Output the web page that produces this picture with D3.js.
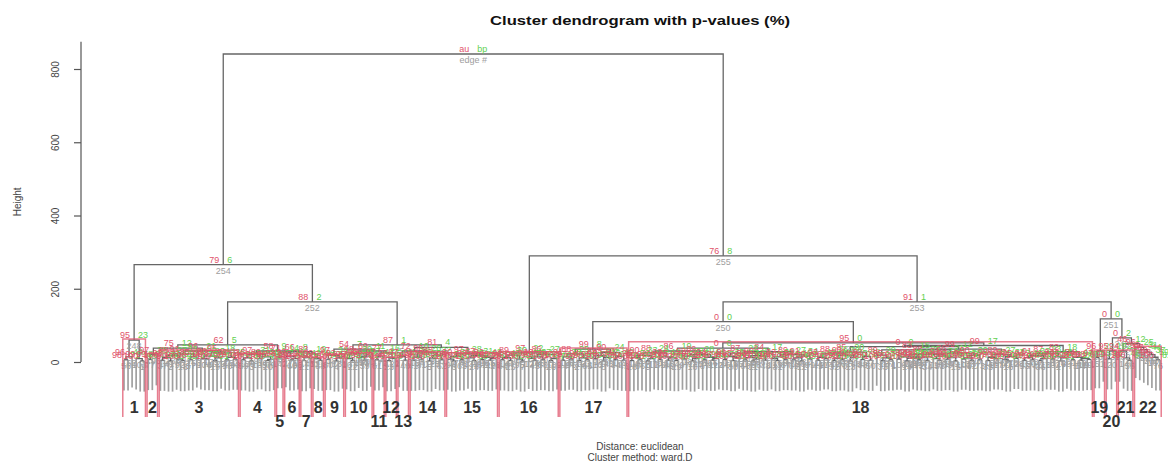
<!DOCTYPE html>
<html><head><meta charset="utf-8">
<script src="https://cdn.jsdelivr.net/npm/d3@7"></script>
<style>body{margin:0;background:#fff}svg{display:block}</style>
</head><body><svg id="c" width="1168" height="469"></svg>
<script>
// ---------------- data ----------------
const titleText = "Cluster dendrogram with p-values (%)";
const subText = ["Distance:  euclidean", "Cluster method: ward.D"];
const yLabel = "Height";
const yTicks = [0, 200, 400, 600, 800];
const clusterNames = ["1","2","3","4","5","6","7","8","9","10","11","12","13","14","15","16","17","18","19","20","21","22"];
const clusterLabelRow = [1,1,1,1,2,1,2,1,1,1,2,1,2,1,1,1,1,1,1,2,1,1];

// merge heights between neighbouring leaves inside each significant cluster
const withinGaps = [
  [6,14,60,9,3],
  [7,20],
  [5,12,3,18,8,4,22,6,14,30,9,7,16,4,11,25,6,13,8],
  [6,11,3,20,9,14,4,7],
  [12],
  [15,6,9],
  [4,12],
  [10,5],
  [7,18,3,11],
  [9,4,22,13,5,16],
  [6,15],
  [4,10],
  [15,5],
  [5,13,7,25,3,10,18,6],
  [8,3,15,6,22,11,4,17,7,13,5,9],
  [6,12,4,19,8,3,25,10,5,14,7,21,4,9],
  [5,14,8,22,4,11,6,35,9,17,3,12,26,7,15,5],
  [4,12,6,18,3,9,25,7,14,5, 11,4,30,8,16,3,10,21,6,13, 5,9,38,7,15,4,11,24,6,12,
   3,8,17,5,28,9,4,14,7,20, 6,11,3,16,8,52,5,13,9,22, 4,10,6,18,3,12,27,7,15,5,
   42,19,4,11,6,33,8,14,3,10, 9,6,13,4,21,9,5,16,7,12, 3,24,8,11,5,18,6,35,4,13,
   9,20,7,3,15,10,45,5,12,6, 17,4,9,23,8,14,3,11,28,6, 13,5,9,7],
  [12,30],
  [9,30],
  [30,11,5],
  [40,34,27,20,13,6]
];
const withinAU = [
  [98,96,95,99,100],
  [99,97],
  [100,93,99,88,97,100,91,98,85,96,94,99,90,100,87,95,98,92,97],
  [99,94,100,97,93,89,100,96],
  [98],
  [97,99,95],
  [100,98],
  [99,100],
  [96,97,100,92],
  [95,100,98,90,99,86],
  [99,97],
  [100,96],
  [97,100],
  [99,91,97,96,100,94,88,98],
  [96,100,90,98,97,93,100,87,99,92,100,95],
  [98,92,100,89,96,100,97,94,99,90,97,86,100,95],
  [100,91,97,88,99,94,98,99,95,89,100,93,90,97,92,99],
  [100,96,99,90,100,98,88,99,93,100, 95,100,86,97,92,100,96,89,99,94, 100,97,0,98,91,100,95,87,99,93,
   100,97,90,100,84,96,100,92,98,89, 99,94,100,91,97,95,100,93,96,88, 100,95,99,90,100,94,85,98,92,100,
   0,89,100,95,99,83,97,92,100,96, 97,99,93,100,88,96,100,91,98,94, 100,86,97,95,100,90,99,99,100,93,
   96,89,98,100,92,95,99,100,94,99, 91,100,96,87,97,93,100,95,82,99, 94,100,96,98],
  [97,96],
  [99,95],
  [94,98,100],
  [96,93,97,90,98,100]
];
const withinBP = [
  [71,44,23,58,92],
  [66,38],
  [88,41,93,27,62,95,33,75,38,21,55,70,29,91,46,18,77,35,64],
  [73,45,90,31,52,36,86,60],
  [47],
  [39,68,51],
  [84,42],
  [49,79],
  [63,34,94,48],
  [57,87,30,40,81,37],
  [72,44],
  [89,53],
  [41,80],
  [76,39,65,26,92,54,32,70],
  [59,93,36,74,28,47,88,31,68,42,85,56],
  [72,43,90,30,61,95,22,50,79,37,66,27,87,55],
  [82,38,63,29,86,48,71,8,57,33,94,45,24,67,40,80],
  [91,52,77,33,94,60,24,72,41,86, 49,90,19,66,37,95,55,28,79,44, 88,63,0,70,35,92,51,22,75,43,
   93,68,31,87,17,57,90,39,69,27, 74,46,95,34,64,0,85,42,58,26, 89,50,78,32,94,45,20,71,38,83,
   0,29,91,53,76,15,67,40,93,56, 61,73,42,88,25,59,90,34,70,48, 95,21,65,50,87,30,77,12,92,43,
   57,27,69,94,37,53,17,84,46,75, 33,90,58,23,66,41,93,54,18,79, 44,88,60,72],
  [55,22],
  [62,19],
  [21,48,83],
  [25,31,44,37,59,81]
];
// merge heights between consecutive clusters (cluster k | cluster k+1)
const betweenGaps = [266,38,47,30,25,28,22,164,35,30,25,47,30,40,841,290,110,164,118,66,50];
const betweenAU   = [79,75,62,58,71,66,83,88,54,69,77,87,72,81,100,76,0,91,0,0,46];
const betweenBP   = [6,12,5,9,14,8,19,2,7,11,16,1,10,4,100,8,0,1,0,2,12];

// ---------------- assemble ----------------
const G = [], AU = [], BP = [], clusters = [];
let idx = 0;
withinGaps.forEach((g, k) => {
  const start = idx;
  g.forEach((v, j) => { G.push(v); AU.push(withinAU[k][j]); BP.push(withinBP[k][j]); });
  idx += g.length + 1;
  clusters.push({name: clusterNames[k], row: clusterLabelRow[k], start, end: idx - 1, top: g.length ? d3.max(g) : 0});
  if (k < betweenGaps.length) { G.push(betweenGaps[k]); AU.push(betweenAU[k]); BP.push(betweenBP[k]); }
});
const N = idx;

function build(lo, hi) {
  if (lo === hi) return {leaf: true, i: lo, x: lo, h: 0};
  let k = lo;
  for (let j = lo + 1; j < hi; j++) if (G[j] > G[k]) k = j;
  const L = build(lo, k), R = build(k + 1, hi);
  return {leaf: false, k, h: G[k], au: AU[k], bp: BP[k], left: L, right: R, x: (L.x + R.x) / 2};
}
const root = build(0, N - 1);
const nodes = [];
(function walk(n){ if (n.leaf) return; nodes.push(n); walk(n.left); walk(n.right); })(root);
nodes.slice().sort((a, b) => a.h - b.h || a.k - b.k).forEach((n, i) => n.edge = i + 1);

const maxH = d3.max(G), minH = d3.min(G);
const hang = 0.1 * (maxH - minH);

// ---------------- scales ----------------
const svg = d3.select("#c");
const x = d3.scaleLinear().domain([0, N - 1]).range([124, 1160]);
const y = d3.scaleLinear().domain([0, 800]).range([362, 69]);
const FONT = "'Liberation Sans', Arial, Helvetica, sans-serif";
const COL_AU = "#DF536B", COL_BP = "#61D04F", COL_EDGE = "#9E9E9E";
const LINE = "#666";

svg.append("rect").attr("width", 1168).attr("height", 469).attr("fill", "#fff");

// title & subtitles
svg.append("text").attr("x", 640).attr("y", 25).attr("text-anchor", "middle")
  .attr("font-family", FONT).attr("font-weight", "bold").attr("font-size", 12.5).attr("fill", "#111")
  .attr("textLength", 300).attr("lengthAdjust", "spacingAndGlyphs").text(titleText);
svg.selectAll("text.sub").data(subText).join("text").attr("class", "sub")
  .attr("x", 640).attr("y", (d, i) => 450 + i * 11).attr("text-anchor", "middle")
  .attr("font-family", FONT).attr("font-size", 10).attr("fill", "#444").text(d => d);

// y axis
const ax = svg.append("g").attr("transform", "translate(81,0)")
  .call(d3.axisLeft(y).tickValues(yTicks).tickSize(7).tickSizeOuter(0).tickFormat(d3.format("d")));
ax.select(".domain").remove();
ax.append("line").attr("x1", 0).attr("x2", 0).attr("y1", y(maxH * 1.04)).attr("y2", y(0))
  .attr("stroke", "#555").attr("stroke-width", 1.2);
ax.selectAll(".tick line").attr("stroke", "#555").attr("stroke-width", 1.2);
ax.selectAll(".tick text").attr("x", -26).attr("y", 0).attr("dy", "0.35em")
  .attr("transform", "rotate(-90,-26,0)").attr("text-anchor", "middle")
  .attr("font-family", FONT).attr("font-size", 10).attr("fill", "#444");
svg.append("text").attr("transform", `translate(21,${(y(0) + y(maxH * 1.04)) / 2}) rotate(-90)`)
  .attr("text-anchor", "middle").attr("font-family", FONT).attr("font-size", 10).attr("fill", "#444").text(yLabel);

// dendrogram: leaves
const gL = svg.append("g");
nodes.forEach(n => {
  [n.left, n.right].forEach(c => {
    if (c.leaf) gL.append("line").attr("x1", x(c.x)).attr("x2", x(c.x))
      .attr("y1", y(n.h)).attr("y2", y(n.h - hang)).attr("stroke", "#a0a0a0").attr("stroke-width", 1.7);
  });
});
// dendrogram: internal structure
const gD = svg.append("g");
nodes.forEach(n => {
  const yl = n.left.leaf ? y(n.h) : y(n.left.h);
  const yr = n.right.leaf ? y(n.h) : y(n.right.h);
  gD.append("path").attr("d", `M${x(n.left.x)},${yl}V${y(n.h)}H${x(n.right.x)}V${yr}`)
    .attr("fill", "none").attr("stroke", LINE).attr("stroke-width", 1.3);
});

// p-value labels
const gT = svg.append("g").attr("font-family", FONT).attr("font-size", 9);
nodes.forEach(n => {
  const px = x(n.x), py = y(n.h);
  const isRoot = n === root;
  gT.append("text").attr("x", px - 4).attr("y", py - 2).attr("text-anchor", "end").attr("fill", COL_AU)
    .text(isRoot ? "au" : n.au);
  gT.append("text").attr("x", px + 4).attr("y", py - 2).attr("text-anchor", "start").attr("fill", COL_BP)
    .text(isRoot ? "bp" : n.bp);
  gT.append("text").attr("x", px).attr("y", py + 9).attr("text-anchor", "middle").attr("fill", COL_EDGE)
    .text(isRoot ? "edge #" : n.edge);
});

// significant cluster rectangles
const gR = svg.append("g");
clusters.forEach(c => {
  const x0 = x(c.start - 0.3), x1 = x(c.end + 0.3), yt = y(c.top + 3);
  gR.append("path").attr("d", `M${x0},417V${yt}H${x1}V417`)
    .attr("fill", "none").attr("stroke", COL_AU).attr("stroke-opacity", 0.75).attr("stroke-width", 1.5);
});

// cluster numbers
svg.selectAll("text.cl").data(clusters).join("text").attr("class", "cl")
  .attr("x", d => x((d.start + d.end) / 2)).attr("y", d => d.row === 1 ? 413 : 427)
  .attr("text-anchor", "middle").attr("font-family", FONT).attr("font-size", 16).attr("font-weight", "bold")
  .attr("fill", "#333").text(d => d.name);
</script>
</body></html>
